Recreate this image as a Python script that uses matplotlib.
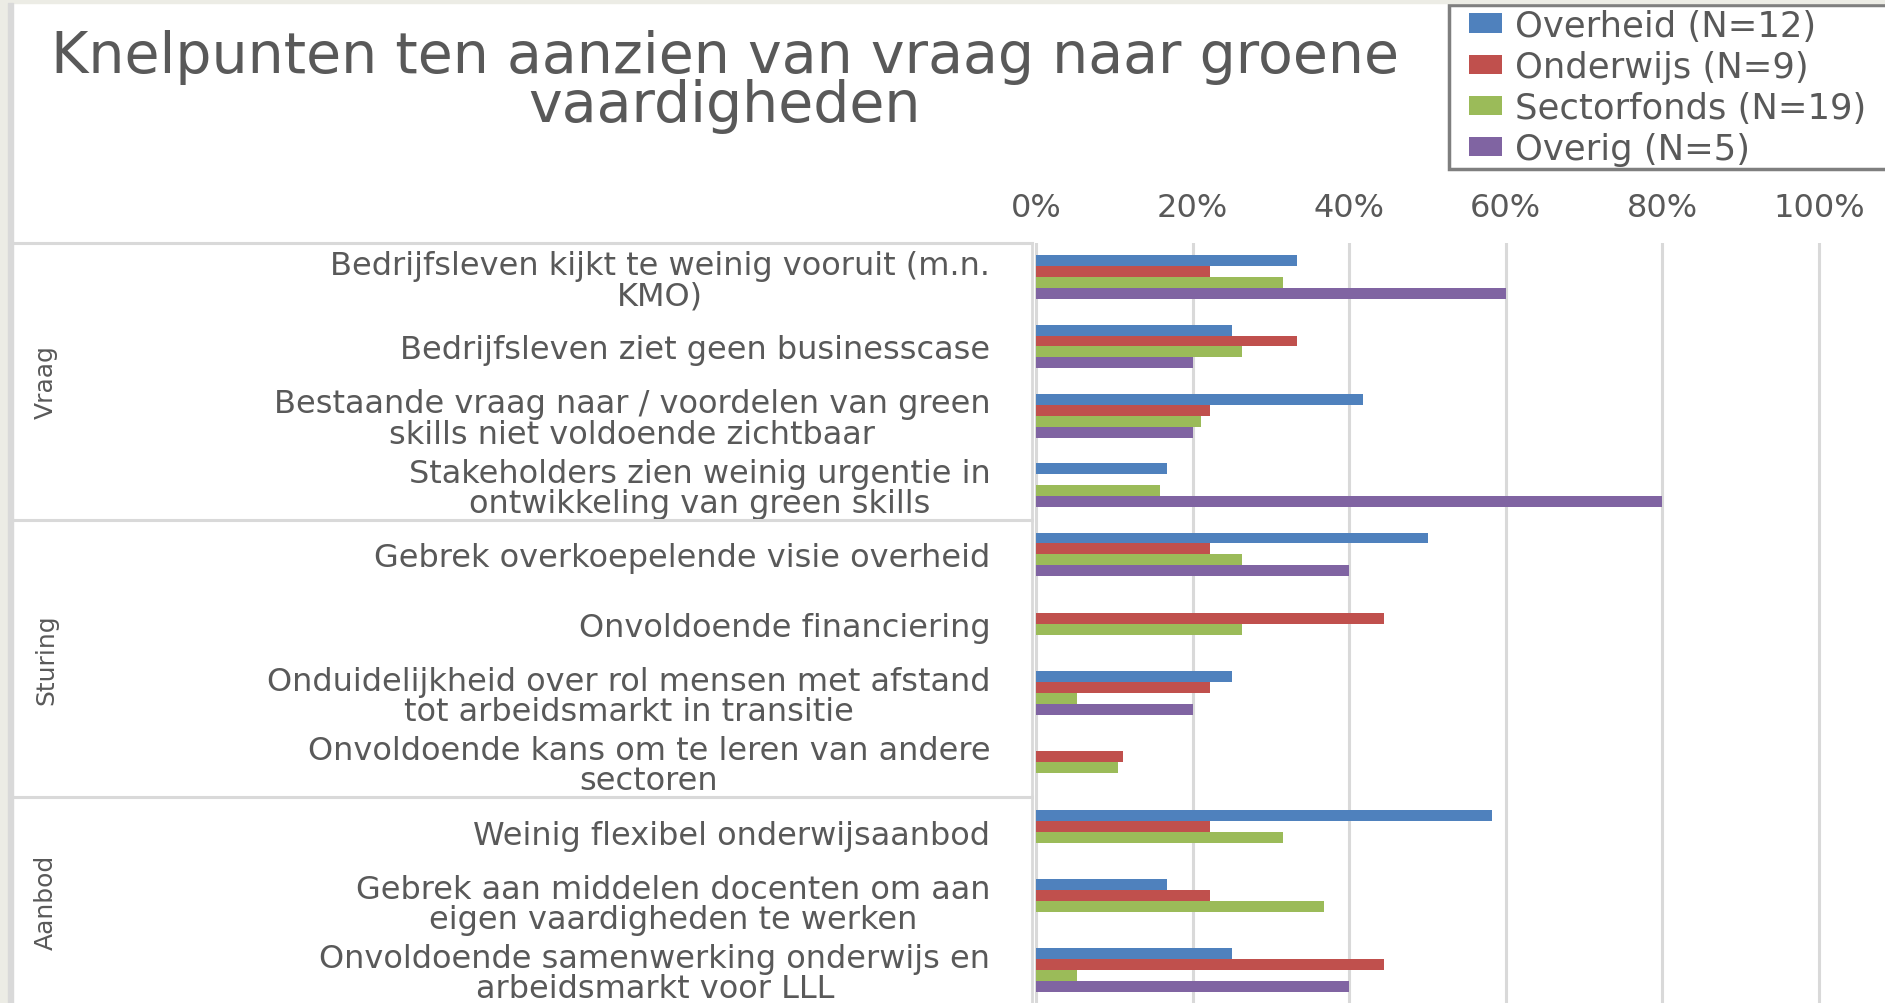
import matplotlib
matplotlib.use("Agg")
import matplotlib.pyplot as plt
import numpy as np
from matplotlib.patches import Rectangle
from matplotlib.legend_handler import HandlerPatch
from matplotlib.transforms import blended_transform_factory

# data (percentages)
categories = [
    "Bedrijfsleven kijkt te weinig vooruit (m.n.\nKMO)",
    "Bedrijfsleven ziet geen businesscase",
    "Bestaande vraag naar / voordelen van green\nskills niet voldoende zichtbaar",
    "Stakeholders zien weinig urgentie in\nontwikkeling van green skills",
    "Gebrek overkoepelende visie overheid",
    "Onvoldoende financiering",
    "Onduidelijkheid over rol mensen met afstand\ntot arbeidsmarkt in transitie",
    "Onvoldoende kans om te leren van andere\nsectoren",
    "Weinig flexibel onderwijsaanbod",
    "Gebrek aan middelen docenten om aan\neigen vaardigheden te werken",
    "Onvoldoende samenwerking onderwijs en\narbeidsmarkt voor LLL",
]
groups = ["Vraag", "Sturing", "Aanbod"]
group_sizes = [4, 4, 3]

series_names = ["Overheid (N=12)", "Onderwijs (N=9)", "Sectorfonds (N=19)", "Overig (N=5)"]
overheid = [33.3, 25.0, 41.7, 16.7, 50.0, 0, 25.0, 0, 58.3, 16.7, 25.0]
onderwijs = [22.2, 33.3, 22.2, 0, 22.2, 44.4, 22.2, 11.1, 22.2, 22.2, 44.4]
sectorfonds = [31.6, 26.3, 21.1, 15.8, 26.3, 26.3, 5.3, 10.5, 31.6, 36.8, 5.3]
overig = [60, 20, 20, 80, 40, 0, 20, 0, 0, 0, 40]
colors = ["#4F81BD", "#C0504D", "#9BBB59", "#8064A2"]

W, H = 1885, 1004
text_col = "#595959"
line_col = "#D9D9D9"

fig = plt.figure(figsize=(W / 100, H / 100), dpi=100, facecolor="white")

# plot area in pixels: 0% at x=1036, 100% at x=1819
ax_left = 1032
x0_px, x100_px = 1036, 1819
unit = x100_px - x0_px
ax = fig.add_axes([ax_left / W, -2 / H, 1 - ax_left / W, (1006 - 243.5) / H])
ax.set_xlim(-(x0_px - ax_left) / unit, (W - x0_px) / unit)

n = len(categories)
y = np.arange(n)
bh = 0.158
all_series = [overheid, onderwijs, sectorfonds, overig]
bars = []
for i, (vals, c, name) in enumerate(zip(all_series, colors, series_names)):
    b = ax.barh(y + (i - 1.5) * bh, np.array(vals) / 100, height=bh, color=c, label=name)
    bars.append(b)

ax.set_ylim(n - 0.5, -0.5)
ax.set_yticks(y)
ax.set_yticklabels(categories, fontsize=23, color=text_col, linespacing=0.98)
for lbl in ax.get_yticklabels():
    lbl.set_multialignment("center")
ax.tick_params(axis="y", length=0, pad=30)

ax.xaxis.tick_top()
ticks = np.arange(0, 1.01, 0.2)
ax.set_xticks(ticks)
ax.set_xticklabels([f"{int(round(t * 100))}%" for t in ticks], fontsize=23, color=text_col)
ax.tick_params(axis="x", length=0, pad=14)
ax.grid(axis="x", color=line_col, lw=2.2)
ax.set_axisbelow(True)
for s in ax.spines.values():
    s.set_visible(False)

# table-like left panel
tr = blended_transform_factory(fig.transFigure, ax.transData)
start = -0.5
for g, size in zip(groups, group_sizes):
    ax.plot([10 / W, ax_left / W], [start, start], transform=tr, color=line_col,
            lw=2.2, clip_on=False)
    ax.text(46 / W, start + size / 2, g, transform=tr, rotation=90, ha="center",
            va="center", fontsize=18, color=text_col)
    start += size
ax.plot([10 / W, ax_left / W], [start, start], transform=tr, color=line_col, lw=2.2, clip_on=False)
ax.plot([ax_left / W, ax_left / W], [-0.5, n - 0.5], transform=tr, color=line_col,
        lw=2, clip_on=False)

# title
fig.text(725 / W, 1 - 82 / H, "Knelpunten ten aanzien van vraag naar groene\nvaardigheden",
         ha="center", va="center", fontsize=41, color=text_col, linespacing=0.86)


# legend, frame running off the right edge
def small_box(legend, orig_handle, xdescent, ydescent, width, height, fontsize):
    return Rectangle((-xdescent + width - 24, -ydescent + (height - 14) / 2), 24, 14)


leg = fig.legend(handles=[b.patches[0] for b in bars], labels=series_names, loc="upper left",
                 bbox_to_anchor=(1449 / W, 1 - 6 / H - 0.01, (1920 - 1449) / W, 0.01),
                 mode="expand", fontsize=25.5, frameon=True, fancybox=False,
                 edgecolor="#7F7F7F", framealpha=1, borderpad=0.1, borderaxespad=0,
                 handlelength=1.4, handletextpad=0.35, labelspacing=0.2,
                 handler_map={Rectangle: HandlerPatch(patch_func=small_box)})
leg.get_frame().set_linewidth(2.5)
for t in leg.get_texts():
    t.set_color(text_col)

# outer border strips of the original slide
fig.patches.append(Rectangle((0, 0), 8 / W, 1, transform=fig.transFigure,
                             color="#ECECE5", zorder=10))
fig.patches.append(Rectangle((0, 1 - 4 / H), 1, 4 / H, transform=fig.transFigure,
                             color="#ECECE5", zorder=10))
fig.patches.append(Rectangle((8 / W, 0), 5 / W, 1 - 4 / H, transform=fig.transFigure,
                             color=line_col, zorder=10))

fig.savefig("out.png", dpi=100, facecolor="white")
